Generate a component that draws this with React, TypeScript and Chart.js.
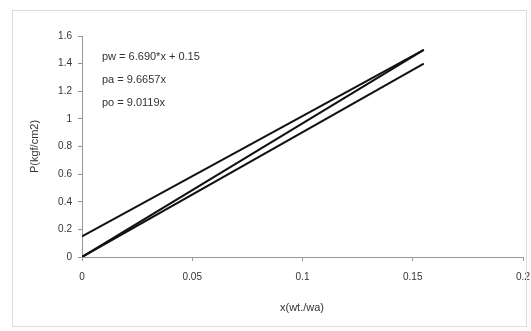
import React, { useEffect, useRef } from "react";
import { Chart, registerables } from "chart.js";
Chart.register(...registerables);

const xValues = [0, 0.155];
const pwValues = [0.15, 1.5];
const paValues = [0, 1.5];
const poValues = [0, 1.4];
const yTickValues = [0, 0.2, 0.4, 0.6, 0.8, 1, 1.2, 1.4, 1.6];
const yTickLabels = ["0", "0.2", "0.4", "0.6", "0.8", "1", "1.2", "1.4", "1.6"];
const xTickValues = [0, 0.05, 0.1, 0.15, 0.2];
const xTickLabels = ["0", "0.05", "0.1", "0.15", "0.2"];
const equations = ["pw = 6.690*x + 0.15", "pa = 9.6657x", "po = 9.0119x"];
const xTitle = "x(wt./wa)";
const yTitle = "P(kgf/cm2)";

const toPoints = (ys: number[]) => xValues.map((x, i) => ({ x, y: ys[i] }));

export default function App() {
  const ref = useRef<HTMLCanvasElement>(null);
  useEffect(() => {
    const font = "Arial, 'Liberation Sans', sans-serif";
    const textPlugin = {
      id: "texts",
      afterDraw(chart: any) {
        const ctx = chart.ctx;
        const area = chart.chartArea;
        ctx.save();
        ctx.strokeStyle = "#dcdcdc";
        ctx.lineWidth = 1;
        ctx.strokeRect(12.5, 10.5, 514, 316);
        ctx.fillStyle = "#333";
        ctx.font = `11px ${font}`;
        ctx.textAlign = "left";
        ctx.textBaseline = "middle";
        const lineYs = [57, 80, 103];
        equations.forEach((t, i) => ctx.fillText(t, 102, lineYs[i]));
        ctx.textAlign = "center";
        ctx.fillText(xTitle, 302, 308);
        ctx.translate(35, (area.top + area.bottom) / 2);
        ctx.rotate(-Math.PI / 2);
        ctx.fillText(yTitle, 0, 0);
        ctx.restore();
      },
    };
    const ds = (label: string, ys: number[]) => ({
      label,
      data: toPoints(ys),
      borderColor: "#111",
      borderWidth: 2,
      pointRadius: 0,
      fill: false,
      tension: 0,
    });
    const chart = new Chart(ref.current!, {
      type: "line",
      data: {
        datasets: [ds("pw", pwValues), ds("pa", paValues), ds("po", poValues)],
      },
      options: {
        animation: false,
        responsive: false,
        layout: { padding: { left: 0, top: 36, right: 2, bottom: 0 } },
        plugins: { legend: { display: false }, tooltip: { enabled: false } },
        scales: {
          x: {
            type: "linear",
            min: 0,
            max: 0.2,
            afterFit: (s: any) => { s.height = 74; s.paddingRight = 8; },
            afterBuildTicks: (s: any) => { s.ticks = xTickValues.map((v) => ({ value: v })); },
            ticks: {
              padding: 10,
              color: "#333",
              font: { size: 10, family: font },
              maxRotation: 0,
              callback: (v: any) => { const i = xTickValues.indexOf(v); return i >= 0 ? xTickLabels[i] : ""; },
            },
            grid: { drawOnChartArea: false, drawTicks: true, tickLength: 4, color: "#999" },
            border: { color: "#999" },
          },
          y: {
            type: "linear",
            min: 0,
            max: 1.6,
            afterFit: (s: any) => { s.width = 82; },
            afterBuildTicks: (s: any) => { s.ticks = yTickValues.map((v) => ({ value: v })); },
            ticks: {
              padding: 6,
              color: "#333",
              font: { size: 10, family: font },
              callback: (v: any) => { const i = yTickValues.indexOf(v); return i >= 0 ? yTickLabels[i] : ""; },
            },
            grid: { drawOnChartArea: false, drawTicks: true, tickLength: 4, color: "#999" },
            border: { color: "#999" },
          },
        },
      },
      plugins: [textPlugin],
    });
    return () => chart.destroy();
  }, []);
  return (
    <div style={{ position: "fixed", left: 0, top: 0, width: 531, height: 331, background: "#fff" }}>
      <canvas ref={ref} width={531} height={331} style={{ width: 531, height: 331 }} />
    </div>
  );
}
